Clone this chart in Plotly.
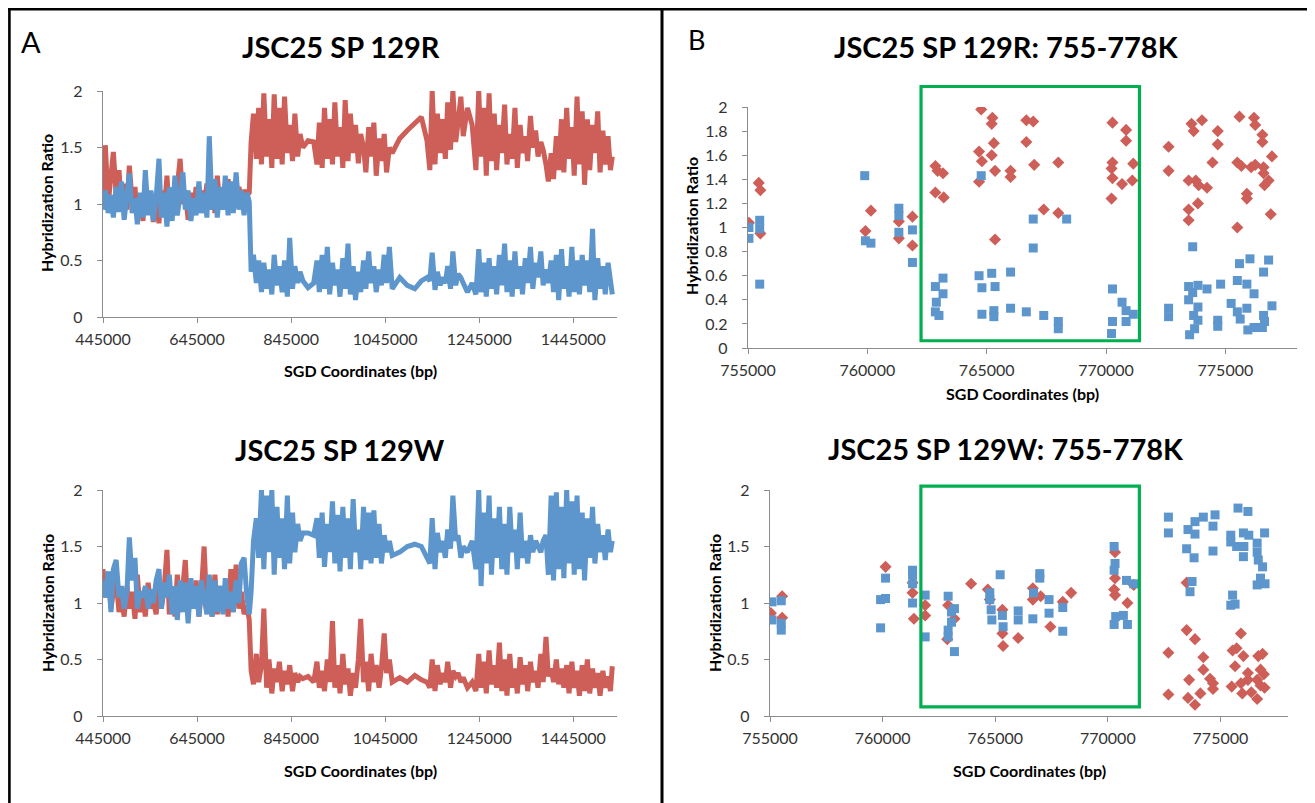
import plotly.graph_objects as go

W, H = 1315, 803
OFF = 8  # the page body margin shifts the figure by 8 px; geometry below is in reference pixels

# ---------------- Panel A: whole-region profiles (positions in kb) ----------------
pos_kb = [
    445, 450, 456, 462, 467, 473, 479, 484, 490, 496,
    501, 507, 513, 518, 524, 530, 535, 541, 547, 552,
    558, 564, 569, 575, 581, 586, 592, 598, 603, 609,
    615, 620, 626, 632, 637, 643, 649, 654, 660, 666,
    671, 677, 683, 688, 694, 700, 705, 711, 717, 722,
    728, 734, 739, 745, 751, 756, 760, 765, 771, 776,
    782, 787, 793, 798, 804, 809, 815, 820, 826, 831,
    837, 842, 848, 853, 859, 864, 870, 881, 893, 900,
    905, 911, 916, 922, 927, 933, 938, 944, 949, 955,
    960, 966, 971, 977, 982, 988, 993, 999, 1004, 1010,
    1015, 1021, 1026, 1032, 1037, 1043, 1048, 1054, 1060, 1076,
    1092, 1108, 1122, 1134, 1140, 1145, 1151, 1156, 1162, 1167,
    1173, 1178, 1184, 1189, 1195, 1200, 1206, 1211, 1220, 1230,
    1238, 1244, 1249, 1255, 1260, 1266, 1271, 1277, 1282, 1288,
    1293, 1299, 1304, 1310, 1315, 1321, 1326, 1332, 1337, 1343,
    1348, 1354, 1359, 1365, 1370, 1376, 1381, 1387, 1392, 1398,
    1403, 1409, 1414, 1420, 1425, 1431, 1436, 1442, 1447, 1453,
    1458, 1464, 1469, 1475, 1480, 1486, 1491, 1497, 1502, 1508,
    1513, 1519, 1524, 1528,
]

sp129R_red = [
    1.05, 1.52, 1.00, 1.22, 1.46, 1.08, 1.30, 0.98, 1.18, 0.95,
    1.34, 1.02, 1.15, 0.88, 1.08, 0.85, 1.20, 0.92, 1.10, 0.84,
    1.06, 0.83, 1.12, 0.90, 1.25, 0.88, 1.05, 0.95, 1.15, 1.40,
    1.00, 1.12, 0.86, 1.10, 0.92, 1.15, 0.95, 1.12, 0.98, 1.18,
    1.00, 1.22, 0.92, 1.25, 0.96, 1.12, 1.00, 1.22, 0.95, 1.10,
    1.02, 1.15, 1.05, 1.12, 1.08, 1.10, 1.55, 1.80, 1.40, 1.85,
    1.35, 1.98, 1.42, 1.75, 1.32, 1.97, 1.40, 1.85, 1.35, 1.95,
    1.45, 1.70, 1.38, 1.80, 1.42, 1.62, 1.50, 1.56, 1.55, 1.35,
    1.72, 1.32, 1.85, 1.40, 1.75, 1.35, 1.90, 1.42, 1.68, 1.32,
    1.92, 1.38, 1.80, 1.45, 1.70, 1.36, 1.62, 1.50, 1.28, 1.68,
    1.42, 1.72, 1.25, 1.58, 1.38, 1.62, 1.28, 1.50, 1.45, 1.58,
    1.65, 1.72, 1.77, 1.56, 1.30, 2.00, 1.35, 1.80, 1.45, 1.75,
    1.40, 1.90, 1.48, 2.00, 1.55, 1.72, 1.95, 1.60, 1.85, 1.70,
    1.30, 2.00, 1.42, 1.85, 1.25, 1.98, 1.38, 1.80, 1.30, 1.70,
    1.45, 1.88, 1.35, 1.62, 1.40, 1.85, 1.32, 1.70, 1.45, 1.60,
    1.38, 1.78, 1.50, 1.65, 1.42, 1.55, 1.48, 1.35, 1.20, 1.45,
    1.22, 1.60, 1.30, 1.75, 1.28, 1.85, 1.40, 1.68, 1.25, 1.95,
    1.35, 1.82, 1.17, 1.75, 1.30, 1.70, 1.45, 1.82, 1.28, 1.65,
    1.35, 1.60, 1.30, 1.42,
]

sp129R_blue = [
    0.95, 1.12, 0.92, 1.08, 0.88, 1.15, 0.93, 1.20, 0.86, 1.05,
    1.27, 0.92, 1.05, 0.82, 1.10, 0.88, 1.30, 0.90, 1.12, 0.85,
    1.05, 1.40, 0.88, 1.10, 0.80, 1.15, 0.85, 1.25, 0.90, 1.08,
    1.28, 0.95, 1.12, 0.85, 1.05, 0.90, 1.20, 0.92, 1.10, 0.88,
    1.60, 0.95, 1.22, 0.88, 1.15, 0.95, 1.25, 0.90, 1.20, 0.92,
    1.28, 0.95, 1.12, 0.90, 1.10, 1.02, 0.40, 0.55, 0.30, 0.50,
    0.22, 0.48, 0.25, 0.42, 0.20, 0.55, 0.28, 0.45, 0.22, 0.50,
    0.18, 0.70, 0.25, 0.45, 0.30, 0.40, 0.32, 0.26, 0.30, 0.50,
    0.22, 0.55, 0.25, 0.62, 0.20, 0.48, 0.28, 0.42, 0.18, 0.52,
    0.25, 0.65, 0.20, 0.45, 0.15, 0.40, 0.22, 0.50, 0.25, 0.58,
    0.30, 0.45, 0.22, 0.42, 0.28, 0.55, 0.30, 0.62, 0.25, 0.35,
    0.28, 0.25, 0.32, 0.35, 0.32, 0.57, 0.24, 0.40, 0.28, 0.35,
    0.30, 0.45, 0.25, 0.58, 0.28, 0.38, 0.35, 0.30, 0.22, 0.30,
    0.20, 0.60, 0.22, 0.48, 0.18, 0.52, 0.25, 0.45, 0.20, 0.55,
    0.28, 0.65, 0.22, 0.50, 0.18, 0.58, 0.25, 0.45, 0.20, 0.52,
    0.30, 0.62, 0.25, 0.48, 0.35, 0.58, 0.28, 0.42, 0.30, 0.50,
    0.22, 0.55, 0.15, 0.60, 0.25, 0.45, 0.18, 0.62, 0.22, 0.50,
    0.20, 0.55, 0.28, 0.50, 0.22, 0.78, 0.15, 0.52, 0.25, 0.45,
    0.20, 0.48, 0.30, 0.20,
]

sp129W_red = [
    1.30, 1.05, 1.25, 0.95, 1.10, 1.20, 0.92, 1.05, 0.88, 1.15,
    0.95, 1.10, 0.86, 1.25, 0.92, 1.05, 0.88, 1.18, 0.95, 1.02,
    0.90, 1.22, 0.95, 1.12, 1.47, 0.90, 1.10, 0.88, 1.25, 0.92,
    1.15, 1.38, 0.90, 1.12, 0.95, 1.20, 0.88, 1.08, 1.50, 0.92,
    1.10, 0.88, 1.25, 0.90, 1.15, 0.95, 1.12, 0.88, 1.30, 0.92,
    1.34, 0.95, 1.10, 0.90, 0.98, 0.85, 0.40, 0.28, 0.55, 0.30,
    0.45, 0.95, 0.25, 0.50, 0.20, 0.42, 0.30, 0.48, 0.22, 0.40,
    0.28, 0.45, 0.22, 0.38, 0.30, 0.35, 0.33, 0.35, 0.30, 0.48,
    0.25, 0.40, 0.22, 0.50, 0.30, 0.84, 0.25, 0.45, 0.20, 0.55,
    0.28, 0.42, 0.18, 0.38, 0.25, 0.50, 0.86, 0.30, 0.48, 0.22,
    0.55, 0.30, 0.45, 0.25, 0.42, 0.73, 0.38, 0.50, 0.30, 0.34,
    0.30, 0.36, 0.32, 0.30, 0.25, 0.50, 0.22, 0.45, 0.28, 0.38,
    0.30, 0.48, 0.25, 0.40, 0.35, 0.38, 0.30, 0.34, 0.25, 0.30,
    0.22, 0.55, 0.25, 0.48, 0.20, 0.58, 0.28, 0.45, 0.25, 0.65,
    0.22, 0.50, 0.18, 0.55, 0.25, 0.42, 0.20, 0.52, 0.28, 0.45,
    0.22, 0.48, 0.30, 0.40, 0.25, 0.55, 0.30, 0.70, 0.35, 0.42,
    0.30, 0.50, 0.28, 0.42, 0.25, 0.45, 0.20, 0.48, 0.25, 0.40,
    0.18, 0.45, 0.22, 0.50, 0.20, 0.42, 0.25, 0.38, 0.18, 0.40,
    0.25, 0.35, 0.22, 0.44,
]

sp129W_blue = [
    1.20, 1.05, 1.28, 0.92, 1.30, 1.38, 1.05, 1.15, 0.95, 1.10,
    1.58, 1.20, 1.40, 0.95, 1.10, 1.05, 1.15, 0.95, 1.12, 1.00,
    1.20, 1.30, 0.95, 1.18, 1.05, 1.25, 0.90, 1.15, 0.85, 1.20,
    0.92, 1.18, 0.82, 1.22, 0.95, 1.15, 0.88, 1.20, 1.05, 0.90,
    1.25, 0.88, 1.20, 0.92, 1.15, 0.90, 1.22, 0.95, 1.10, 0.92,
    1.20, 1.00, 1.35, 1.40, 1.05, 0.90, 1.10, 1.55, 1.75, 1.40,
    2.00, 1.30, 1.95, 1.45, 2.00, 1.25, 1.85, 1.40, 1.75, 1.30,
    1.95, 1.35, 1.80, 1.45, 1.70, 1.55, 1.62, 1.62, 1.60, 1.75,
    1.40, 1.80, 1.32, 1.70, 1.45, 1.90, 1.35, 1.78, 1.28, 1.85,
    1.40, 1.75, 1.30, 1.92, 1.45, 1.65, 1.30, 1.85, 1.38, 1.80,
    1.35, 1.82, 1.40, 1.70, 1.35, 1.60, 1.45, 1.55, 1.42, 1.45,
    1.50, 1.52, 1.50, 1.40, 1.35, 1.75, 1.30, 1.62, 1.45, 1.55,
    1.40, 1.65, 1.48, 1.95, 1.55, 1.60, 1.40, 1.50, 1.45, 1.55,
    1.30, 2.00, 1.15, 1.80, 1.35, 1.95, 1.25, 1.75, 1.40, 1.85,
    1.30, 1.70, 1.25, 1.85, 1.45, 1.65, 1.30, 1.80, 1.40, 1.55,
    1.35, 1.60, 1.45, 1.55, 1.50, 1.45, 1.55, 1.60, 1.25, 1.95,
    1.20, 1.98, 1.30, 1.85, 1.22, 2.00, 1.35, 1.90, 1.25, 1.95,
    1.30, 1.80, 1.20, 1.75, 1.40, 1.85, 1.35, 1.70, 1.45, 1.60,
    1.38, 1.65, 1.45, 1.55,
]

# ---------------- Panel B: 755-778K zoom (positions in kb) ----------------
bR_red_x = [755.04, 755.45, 755.52, 755.52, 759.92, 760.15, 761.32, 761.32, 761.89, 761.89,
            762.85, 762.94, 762.85, 763.17, 763.20, 764.68, 764.77, 764.80, 764.68, 765.24,
            765.21, 765.30, 765.21, 765.35, 765.35, 766.00, 766.00, 766.66, 766.95, 766.66,
            766.99, 767.39, 768.00, 768.00, 770.27, 770.84, 770.84, 770.27, 770.23, 770.27,
            770.67, 771.14, 771.10, 770.23, 772.62, 772.62, 773.58, 774.02, 773.67, 773.46,
            773.76, 773.88, 774.23, 773.46, 773.46, 773.85, 774.68, 774.68, 774.46, 775.50,
            775.59, 775.50, 775.67, 775.90, 775.90, 776.20, 776.25, 776.08, 776.25, 776.55,
            776.55, 776.60, 776.60, 776.64, 776.81, 776.95, 776.90]
bR_red_y = [1.04, 1.37, 1.31, 0.95, 0.97, 1.14, 1.05, 0.91, 1.09, 0.85,
            1.51, 1.47, 1.29, 1.45, 1.25, 1.63, 1.98, 1.55, 1.38, 1.91,
            1.86, 1.70, 1.60, 1.47, 0.90, 1.47, 1.42, 1.89, 1.88, 1.71,
            1.52, 1.15, 1.12, 1.54, 1.87, 1.81, 1.72, 1.54, 1.49, 1.41,
            1.36, 1.53, 1.39, 1.24, 1.67, 1.47, 1.86, 1.89, 1.80, 1.39,
            1.39, 1.35, 1.33, 1.15, 1.06, 1.20, 1.80, 1.69, 1.54, 1.00,
            1.92, 1.54, 1.51, 1.28, 1.24, 1.91, 1.85, 1.50, 1.52, 1.77,
            1.71, 1.50, 1.45, 1.35, 1.39, 1.59, 1.11]
bR_blue_x = [755.04, 755.04, 755.49, 755.49, 755.49, 759.89, 759.92, 760.15, 761.32, 761.32,
             761.32, 761.89, 761.89, 762.85, 762.89, 762.85, 763.17, 763.17, 763.00, 764.68,
             764.80, 764.80, 764.77, 765.21, 765.35, 765.30, 765.30, 766.00, 766.00, 766.66,
             766.95, 766.95, 767.39, 768.00, 768.00, 768.35, 770.27, 770.27, 770.23, 770.67,
             770.84, 770.84, 771.14, 772.62, 772.62, 773.63, 773.46, 773.63, 773.85, 773.46,
             773.85, 773.50, 773.67, 773.85, 773.71, 774.23, 774.80, 774.68, 774.68, 775.50,
             775.24, 775.50, 775.62, 775.59, 776.03, 775.90, 775.90, 776.20, 775.94, 776.20,
             776.60, 776.55, 776.60, 776.81, 776.95, 776.64]
bR_blue_y = [1.00, 0.91, 1.06, 0.99, 0.53, 1.43, 0.89, 0.87, 1.16, 1.10,
             0.96, 0.98, 0.71, 0.51, 0.38, 0.30, 0.58, 0.45, 0.27, 0.60,
             0.50, 0.28, 1.43, 0.62, 0.51, 0.31, 0.26, 0.63, 0.33, 0.30,
             1.07, 0.83, 0.27, 0.22, 0.16, 1.07, 0.49, 0.22, 0.12, 0.38,
             0.31, 0.22, 0.28, 0.33, 0.26, 0.84, 0.51, 0.46, 0.52, 0.40,
             0.34, 0.11, 0.27, 0.23, 0.16, 0.49, 0.53, 0.23, 0.18, 0.56,
             0.37, 0.30, 0.24, 0.70, 0.74, 0.53, 0.33, 0.45, 0.15, 0.17,
             0.63, 0.17, 0.27, 0.73, 0.35, 0.22]

bW_red_x = [755.04, 755.54, 755.54, 760.13, 761.33, 761.39, 761.33, 761.89, 761.89, 762.91,
            762.87, 763.19, 763.93, 764.67, 764.76, 765.32, 765.32, 765.35, 766.02, 766.67,
            766.67, 767.02, 767.45, 768.00, 768.37, 770.32, 770.32, 770.28, 770.32, 770.87,
            771.15, 772.69, 772.69, 773.50, 773.50, 773.87, 773.61, 773.56, 773.87, 774.11,
            774.24, 774.24, 774.54, 774.67, 774.67, 775.50, 775.65, 775.91, 775.54, 775.72,
            776.02, 775.91, 775.97, 776.22, 776.22, 776.37, 776.63, 776.63, 776.68, 776.87,
            776.78, 776.93, 776.96, 776.78]
bW_red_y = [0.91, 1.06, 0.87, 1.32, 1.09, 0.86, 1.18, 0.98, 0.89, 0.98,
            0.68, 0.86, 1.17, 1.12, 1.03, 0.94, 0.73, 0.62, 0.69, 1.13,
            1.03, 1.06, 0.79, 1.01, 1.09, 1.45, 1.22, 1.12, 1.07, 1.00,
            1.16, 0.56, 0.19, 1.18, 0.76, 0.68, 0.32, 0.16, 0.10, 0.20,
            0.52, 0.41, 0.33, 0.24, 0.29, 0.26, 0.44, 0.73, 0.58, 0.60,
            0.53, 0.29, 0.20, 0.38, 0.32, 0.21, 0.15, 0.32, 0.53, 0.55,
            0.41, 0.37, 0.25, 0.27]
bW_blue_x = [755.09, 755.09, 755.50, 755.50, 755.50, 759.91, 759.91, 760.13, 760.13, 761.33,
             761.33, 761.33, 761.33, 761.89, 761.89, 762.91, 762.91, 762.91, 763.06, 763.19,
             763.06, 763.19, 764.76, 764.76, 764.82, 764.85, 765.22, 765.32, 765.35, 766.02,
             766.02, 766.67, 766.70, 766.98, 766.98, 767.39, 767.39, 768.00, 768.00, 770.28,
             770.32, 770.28, 770.35, 770.28, 770.69, 770.83, 770.87, 771.15, 772.69, 772.69,
             773.56, 773.50, 773.65, 773.74, 773.87, 773.87, 773.83, 774.24, 774.76, 774.67,
             774.67, 775.46, 775.54, 775.46, 775.65, 775.78, 776.22, 775.46, 775.72, 776.02,
             776.02, 776.26, 776.63, 776.63, 776.68, 776.78, 776.63, 776.96, 776.87, 776.98,
             776.04]
bW_blue_y = [1.01, 0.85, 1.02, 0.82, 0.76, 0.78, 1.03, 1.04, 1.22, 1.29,
             1.25, 1.17, 1.00, 1.07, 0.70, 1.06, 0.76, 0.70, 0.92, 0.95,
             0.83, 0.57, 1.09, 1.03, 0.94, 0.85, 1.25, 0.89, 0.79, 0.93,
             0.85, 0.86, 1.09, 1.26, 1.22, 1.03, 0.91, 0.96, 0.75, 1.50,
             1.35, 1.29, 0.88, 0.81, 0.89, 1.20, 0.81, 1.17, 1.76, 1.62,
             1.65, 1.48, 1.10, 1.19, 1.72, 1.61, 1.40, 1.76, 1.78, 1.68,
             1.46, 1.54, 1.07, 0.98, 0.99, 1.84, 1.81, 1.60, 1.50, 1.41,
             1.62, 1.60, 1.53, 1.45, 1.38, 1.22, 1.16, 1.62, 1.32, 1.17,
             1.50]

# green highlight boxes (bp / ratio): x0, x1, y0, y1
box_129R = [762250, 771400, 0.06, 2.17]
box_129W = [761700, 771400, 0.08, 2.035]

a_xticks = [445000, 645000, 845000, 1045000, 1245000, 1445000]
a_xrange = [445000, 1538000]
a_yticks = [0, 0.5, 1, 1.5, 2]
a_yticklabels = ["0", "0.5", "1", "1.5", "2"]
b_xticks = [755000, 760000, 765000, 770000, 775000]
b_xrange = [755000, 778000]
bR_yticks = [0, 0.2, 0.4, 0.6, 0.8, 1.0, 1.2, 1.4, 1.6, 1.8, 2.0]
bR_yticklabels = ["0", "0.2", "0.4", "0.6", "0.8", "1", "1.2", "1.4", "1.6", "1.8", "2"]

RED = "#CD5F58"
BLUE = "#5D96CC"
GREEN = "#00B050"
AXIS = "#8C8C8C"
FONT = "Lato"


def px(x):
    return (x - OFF) / W


def py(y):
    return 1 - (y - OFF) / H


kb = lambda v: [t * 1000 for t in v]
pos = kb(pos_kb)

fig = go.Figure()
LW = 5.0
fig.add_trace(go.Scatter(x=pos, y=sp129R_red, mode="lines", line=dict(color=RED, width=LW), xaxis="x", yaxis="y"))
fig.add_trace(go.Scatter(x=pos, y=sp129R_blue, mode="lines", line=dict(color=BLUE, width=LW), xaxis="x", yaxis="y"))
fig.add_trace(go.Scatter(x=pos, y=sp129W_red, mode="lines", line=dict(color=RED, width=LW), xaxis="x3", yaxis="y3"))
fig.add_trace(go.Scatter(x=pos, y=sp129W_blue, mode="lines", line=dict(color=BLUE, width=LW), xaxis="x3", yaxis="y3"))

dia = dict(symbol="diamond", size=9.3, color=RED, line=dict(width=0))
sq = dict(symbol="square", size=9, color=BLUE, line=dict(width=0))
fig.add_trace(go.Scatter(x=kb(bR_red_x), y=bR_red_y, mode="markers", marker=dia, xaxis="x2", yaxis="y2"))
fig.add_trace(go.Scatter(x=kb(bR_blue_x), y=bR_blue_y, mode="markers", marker=sq, xaxis="x2", yaxis="y2"))
fig.add_trace(go.Scatter(x=kb(bW_red_x), y=bW_red_y, mode="markers", marker=dia, xaxis="x4", yaxis="y4"))
fig.add_trace(go.Scatter(x=kb(bW_blue_x), y=bW_blue_y, mode="markers", marker=sq, xaxis="x4", yaxis="y4"))

tickfont = dict(family=FONT, size=16, color="#333333")
common = dict(showgrid=False, zeroline=False, showline=True, linecolor=AXIS, linewidth=1.3,
              ticks="outside", ticklen=5, tickcolor=AXIS, tickwidth=1.3, tickfont=tickfont,
              automargin=False)

# domains from reference pixel geometry
dom = {
    "A1": ([px(103), px(617)], [py(317), py(91)]),
    "A2": ([px(103), px(617)], [py(716), py(490)]),
    "B1": ([px(748), px(1297)], [py(348), py(107)]),
    "B2": ([px(770), px(1288)], [py(716), py(490)]),
}

fig.update_layout(
    template="none",
    xaxis=dict(domain=dom["A1"][0], anchor="y", range=a_xrange, tickvals=a_xticks, tickformat="d",
               ticklabelstandoff=3, **common),
    yaxis=dict(domain=dom["A1"][1], anchor="x", range=[0, 2], tickvals=a_yticks, ticktext=a_yticklabels,
               ticklabelstandoff=11, **common),
    xaxis3=dict(domain=dom["A2"][0], anchor="y3", range=a_xrange, tickvals=a_xticks, tickformat="d",
                ticklabelstandoff=3, **common),
    yaxis3=dict(domain=dom["A2"][1], anchor="x3", range=[0, 2], tickvals=a_yticks, ticktext=a_yticklabels,
                ticklabelstandoff=11, **common),
    xaxis2=dict(domain=dom["B1"][0], anchor="y2", range=b_xrange, tickvals=b_xticks, tickformat="d",
                ticklabelstandoff=3, **common),
    yaxis2=dict(domain=dom["B1"][1], anchor="x2", range=[0, 2], tickvals=bR_yticks, ticktext=bR_yticklabels,
                ticklabelstandoff=11, **common),
    xaxis4=dict(domain=dom["B2"][0], anchor="y4", range=b_xrange, tickvals=b_xticks, tickformat="d",
                ticklabelstandoff=3, **common),
    yaxis4=dict(domain=dom["B2"][1], anchor="x4", range=[0, 2], tickvals=a_yticks, ticktext=a_yticklabels,
                ticklabelstandoff=11, **common),
)


def box_shape(box, xa, xr):
    x0, x1, y0, y1 = box
    fx0 = (x0 - xr[0]) / (xr[1] - xr[0])
    fx1 = (x1 - xr[0]) / (xr[1] - xr[0])
    return dict(type="rect", xref=f"{xa} domain", yref=f"{xa.replace('x', 'y')} domain",
                x0=fx0, x1=fx1, y0=y0 / 2.0, y1=y1 / 2.0,
                line=dict(color=GREEN, width=3.2), fillcolor="rgba(0,0,0,0)", layer="above")


shapes = [
    box_shape(box_129R, "x2", b_xrange),
    box_shape(box_129W, "x4", b_xrange),
    # figure frame
    dict(type="line", xref="paper", yref="paper", x0=px(5), x1=1, y0=py(9.2), y1=py(9.2),
         line=dict(color="black", width=2.6)),
    dict(type="line", xref="paper", yref="paper", x0=px(9.4), x1=px(9.4), y0=py(8), y1=0,
         line=dict(color="black", width=2.6)),
    dict(type="line", xref="paper", yref="paper", x0=px(662), x1=px(662), y0=py(8), y1=0,
         line=dict(color="black", width=3)),
]

ann = []


def text(s, x, y, size, bold=True, angle=0):
    ann.append(dict(text=f"<b>{s}</b>" if bold else s, x=px(x), y=py(y), xref="paper", yref="paper",
                    showarrow=False, xanchor="center", yanchor="middle", textangle=angle,
                    font=dict(family=FONT, size=size, color="black")))


text("A", 31, 42, 29, bold=False)
text("B", 696, 39, 27, bold=False)
text("JSC25 SP 129R", 341, 47, 29)
text("JSC25 SP 129W", 340, 449, 29)
text("JSC25 SP 129R: 755-778K", 1006, 47, 29)
text("JSC25 SP 129W: 755-778K", 1006, 448, 29)
text("Hybridization Ratio", 47, 203, 16, angle=-90)
text("Hybridization Ratio", 47, 603, 16, angle=-90)
text("Hybridization Ratio", 692, 226, 16, angle=-90)
text("Hybridization Ratio", 714, 603, 16, angle=-90)
text("SGD Coordinates (bp)", 360, 370, 16)
text("SGD Coordinates (bp)", 360, 770, 16)
text("SGD Coordinates (bp)", 1022, 394, 16)
text("SGD Coordinates (bp)", 1029, 770, 16)

fig.update_layout(
    width=W, height=H, autosize=False,
    margin=dict(l=0, r=0, t=0, b=0, pad=0),
    paper_bgcolor="white", plot_bgcolor="white",
    showlegend=False,
    shapes=shapes, annotations=ann,
    font=dict(family=FONT),
)

fig.write_html("out.html")
